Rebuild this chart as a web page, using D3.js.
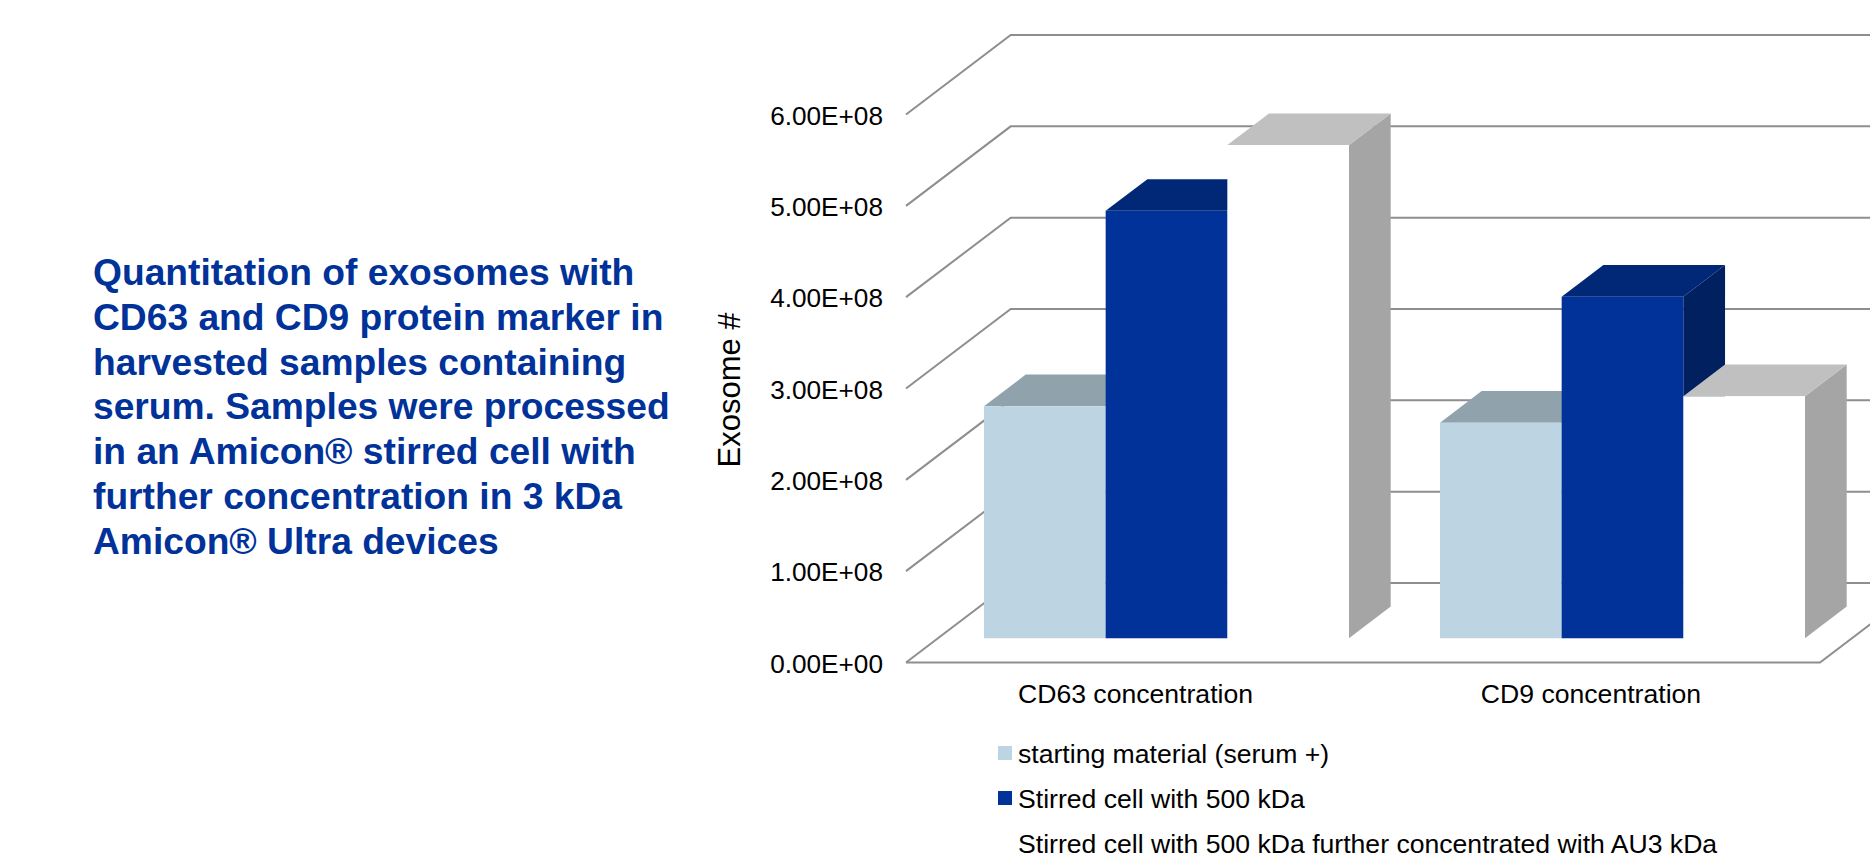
<!DOCTYPE html>
<html>
<head>
<meta charset="utf-8">
<script src="https://cdn.jsdelivr.net/npm/d3@7/dist/d3.min.js"></script>
<style>
html, body { margin: 0; padding: 0; background: #fff; }
svg { display: block; }
text { font-family: "Liberation Sans", Arial, sans-serif; fill: #000; }
</style>
</head>
<body>
<script>
// Exosome counts per marker, one array per processing step
const categories = ["CD63 concentration", "CD9 concentration"];
const seriesNames = [
  "starting material (serum +)",
  "Stirred cell with 500 kDa",
  "Stirred cell with 500 kDa further concentrated with AU3 kDa"
];
const startingMaterial = [2.54e8, 2.36e8];
const stirredCell = [4.68e8, 3.74e8];
const furtherConcentrated = [5.40e8, 2.65e8];
const yTicks = [0, 1e8, 2e8, 3e8, 4e8, 5e8, 6e8];
const tickLabels = ["0.00E+00", "1.00E+08", "2.00E+08", "3.00E+08", "4.00E+08", "5.00E+08", "6.00E+08"];
const titleLines = [
  "Quantitation of exosomes with",
  "CD63 and CD9 protein marker in",
  "harvested samples containing",
  "serum. Samples were processed",
  "in an Amicon® stirred cell with",
  "further concentration in 3 kDa",
  "Amicon® Ultra devices"
];
const seriesValues = [startingMaterial, stirredCell, furtherConcentrated];
// front, top and side face colours of each series
const faceColors = [
  { front: "#bdd4e3", top: "#90a2ac", side: "#90a2ac" },
  { front: "#003299", top: "#002877", side: "#002060" },
  { front: "#ffffff", top: "#c0c0c0", side: "#a5a5a5" }
];

const width = 1870, height = 863;
const svg = d3.select("body").append("svg").attr("width", width).attr("height", height);

// Plot box of the oblique projection
const y = d3.scaleLinear().domain([0, 6e8]).range([662.5, 114.5]);
const x0 = d3.scaleBand().domain(categories).range([906, 1818]);
const xSeries = d3.scaleBand().domain(d3.range(3)).range([78, 443]);
const floorLeft = 906, floorRight = 1820;

// Projection of the wall and floor depth
const wallDx = 104.7, wallDy = -79.5;
const barInsetDy = -24.2;
const barDepthDx = 41.7, barDepthDy = -31.7;

// Floor and back wall gridlines
const grid = svg.append("g").attr("fill", "none").attr("stroke", "#8e8e8e").attr("stroke-width", 2);
const gridLine = d3.line();
grid.selectAll("path").data(yTicks).join("path").attr("d", t => gridLine([
  [floorLeft, y(t)],
  [floorLeft + wallDx, y(t) + wallDy],
  [width + 10, y(t) + wallDy]
]));
// Front and right edges of the floor
grid.append("path").attr("d", gridLine([
  [floorLeft, y(0)],
  [floorRight, y(0)],
  [floorRight + wallDx, y(0) + wallDy]
]));

// Bars, painted left to right so nearer faces cover the ones behind
const bars = [];
categories.forEach((c, ci) => seriesValues.forEach((vals, si) => bars.push({ c, si, v: vals[ci] })));
const barG = svg.append("g").selectAll("g").data(bars).join("g");
const poly = pts => d3.line()(pts) + "Z";
const barBox = d => {
  const l = x0(d.c) + xSeries(d.si), r = l + xSeries.bandwidth();
  return { l, r, t: y(d.v) + barInsetDy, b: y(0) + barInsetDy };
};
barG.append("path").attr("fill", d => faceColors[d.si].side).attr("d", d => {
  const { r, t, b } = barBox(d);
  return poly([[r, t], [r + barDepthDx, t + barDepthDy], [r + barDepthDx, b + barDepthDy], [r, b]]);
});
barG.append("path").attr("fill", d => faceColors[d.si].top).attr("d", d => {
  const { l, r, t } = barBox(d);
  return poly([[l, t], [l + barDepthDx, t + barDepthDy], [r + barDepthDx, t + barDepthDy], [r, t]]);
});
barG.append("path").attr("fill", d => faceColors[d.si].front).attr("d", d => {
  const { l, r, t, b } = barBox(d);
  return poly([[l, t], [r, t], [r, b], [l, b]]);
});

// Value axis labels
svg.append("g").selectAll("text").data(yTicks).join("text")
  .attr("x", 883).attr("y", t => y(t) + 1)
  .attr("text-anchor", "end").attr("dominant-baseline", "central")
  .attr("font-size", 26.2).text((t, i) => tickLabels[i]);

svg.append("text")
  .attr("transform", "translate(729,390) rotate(-90)")
  .attr("text-anchor", "middle").attr("dominant-baseline", "central")
  .attr("font-size", 31).text("Exosome #");

// Category labels
const categoryCenters = d3.scaleOrdinal().domain(categories).range([1135.5, 1591]);
svg.append("g").selectAll("text").data(categories).join("text")
  .attr("x", c => categoryCenters(c)).attr("y", 703)
  .attr("font-size", 26.6).attr("text-anchor", "middle").text(c => c);

// Legend
const legendY = d3.scalePoint().domain(seriesNames).range([753, 843]);
const legend = svg.append("g").selectAll("g").data(seriesNames).join("g");
legend.append("rect").attr("x", 998).attr("y", d => legendY(d) - 7).attr("width", 14).attr("height", 14)
  .attr("fill", (d, i) => faceColors[i].front);
legend.append("text").attr("x", 1018).attr("y", d => legendY(d) + 9.7)
  .attr("font-size", 26.6).text(d => d);

// Heading on the left
svg.append("g").selectAll("text").data(titleLines).join("text")
  .attr("x", 93).attr("y", (d, i) => 285 + i * 44.75)
  .attr("font-size", 37.2).attr("font-weight", "bold")
  .style("fill", "#003299").text(d => d);
</script>
</body>
</html>
